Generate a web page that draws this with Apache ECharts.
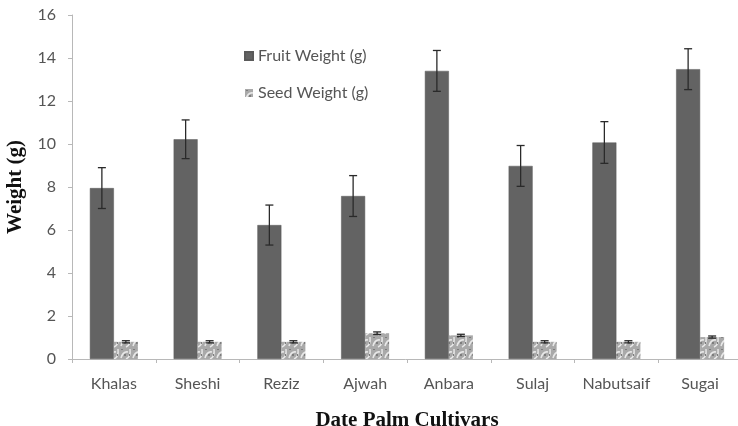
<!DOCTYPE html>
<html>
<head>
<meta charset="utf-8">
<script src="https://cdn.jsdelivr.net/npm/echarts@6/dist/echarts.min.js"></script>
<style>
  html, body { margin: 0; padding: 0; background: #fff; }
  #chart { width: 738px; height: 426px; }
</style>
</head>
<body>
<div id="chart"></div>
<script>
// cultivars on the x axis
const cultivars = ['Khalas', 'Sheshi', 'Reziz', 'Ajwah', 'Anbara', 'Sulaj', 'Nabutsaif', 'Sugai'];
// mean weights (g)
const fruitWeight = [7.95, 10.22, 6.23, 7.58, 13.4, 8.98, 10.07, 13.48];
const seedWeight = [0.8, 0.8, 0.8, 1.2, 1.1, 0.8, 0.8, 1.02];
// error bar half-lengths
const fruitErr = [0.95, 0.9, 0.93, 0.95, 0.95, 0.95, 0.97, 0.95];
const seedErr = [0.05, 0.05, 0.05, 0.06, 0.05, 0.05, 0.05, 0.05];
const yTicks = [0, 2, 4, 6, 8, 10, 12, 14, 16];

// mottled texture for the seed bars
function makePattern () {
  const c = document.createElement('canvas');
  c.width = 12;
  c.height = 12;
  const ctx = c.getContext('2d');
  ctx.fillStyle = '#a9a9a9';
  ctx.fillRect(0, 0, 12, 12);
  ctx.strokeStyle = '#e8e8e8';
  ctx.lineWidth = 1.5;
  ctx.beginPath();
  ctx.moveTo(1, 10); ctx.quadraticCurveTo(3, 3, 8, 4);
  ctx.moveTo(6, 11); ctx.quadraticCurveTo(11, 9, 10, 1);
  ctx.stroke();
  ctx.fillStyle = '#7d7d7d';
  ctx.fillRect(4, 6, 2, 2);
  ctx.fillRect(9, 6, 1, 2);
  ctx.fillRect(1, 1, 2, 1);
  return c;
}

const BAR_W = 24;

function errorSeries (name, vals, errs, offset) {
  return {
    type: 'custom',
    name: name,
    silent: true,
    z: 5,
    data: vals.map(function (v, i) { return [i, v - errs[i], v + errs[i]]; }),
    renderItem: function (params, api) {
      const lo = api.coord([api.value(0), api.value(1)]);
      const hi = api.coord([api.value(0), api.value(2)]);
      const x = lo[0] + offset;
      const cap = 4;
      const st = { stroke: '#2a2a2a', lineWidth: 1.3 };
      return {
        type: 'group',
        children: [
          { type: 'line', shape: { x1: x, y1: lo[1], x2: x, y2: hi[1] }, style: st },
          { type: 'line', shape: { x1: x - cap, y1: hi[1], x2: x + cap, y2: hi[1] }, style: st },
          { type: 'line', shape: { x1: x - cap, y1: lo[1], x2: x + cap, y2: lo[1] }, style: st }
        ]
      };
    }
  };
}

const chart = echarts.init(document.getElementById('chart'));
const option = {
  backgroundColor: '#ffffff',
  animation: false,
  textStyle: { fontFamily: 'Lato' },
  grid: {
    left: 72,
    top: 15,
    bottom: 67,
    width: 670,
    containLabel: false,
    outerBoundsMode: 'none'
  },
  legend: {
    orient: 'vertical',
    left: 239,
    top: 43,
    icon: 'rect',
    itemWidth: 8,
    itemHeight: 8,
    itemGap: 21,
    data: ['Fruit Weight (g)', 'Seed Weight (g)'],
    textStyle: { color: '#555555', fontSize: 16, fontFamily: 'Lato' }
  },
  xAxis: {
    type: 'category',
    data: cultivars,
    name: 'Date Palm Cultivars',
    nameLocation: 'middle',
    nameGap: 51,
    nameTextStyle: {
      fontFamily: 'Liberation Serif',
      fontWeight: 'bold',
      fontSize: 21,
      color: '#111111'
    },
    axisLine: { lineStyle: { color: '#b8b8b8', width: 1 } },
    axisTick: { show: true, length: 4, lineStyle: { color: '#b8b8b8' } },
    axisLabel: {
      interval: 0,
      hideOverlap: false,
      color: '#555555',
      fontSize: 16,
      margin: 17,
      fontFamily: 'Lato'
    },
    splitLine: { show: false }
  },
  yAxis: {
    type: 'value',
    min: yTicks[0],
    max: yTicks[yTicks.length - 1],
    interval: 2,
    name: 'Weight (g)',
    nameLocation: 'middle',
    nameGap: 45,
    nameTextStyle: {
      fontFamily: 'Liberation Serif',
      fontWeight: 'bold',
      fontSize: 21,
      color: '#111111'
    },
    axisLine: { show: true, lineStyle: { color: '#b8b8b8', width: 1 } },
    axisTick: { show: true, length: 4, lineStyle: { color: '#b8b8b8' } },
    axisLabel: { color: '#555555', fontSize: 16, margin: 16, fontFamily: 'Lato' },
    splitLine: { show: false }
  },
  series: [
    {
      name: 'Fruit Weight (g)',
      type: 'bar',
      data: fruitWeight,
      barWidth: BAR_W,
      barGap: '0%',
      itemStyle: { color: '#636363', borderColor: '#5a5a5a', borderWidth: 0.5 }
    },
    {
      name: 'Seed Weight (g)',
      type: 'bar',
      data: seedWeight,
      barWidth: BAR_W,
      barGap: '0%',
      itemStyle: { color: { image: makePattern(), repeat: 'repeat' } }
    },
    errorSeries('fruitErr', fruitWeight, fruitErr, -BAR_W / 2),
    errorSeries('seedErr', seedWeight, seedErr, BAR_W / 2)
  ]
};
chart.setOption(option);
</script>
</body>
</html>
